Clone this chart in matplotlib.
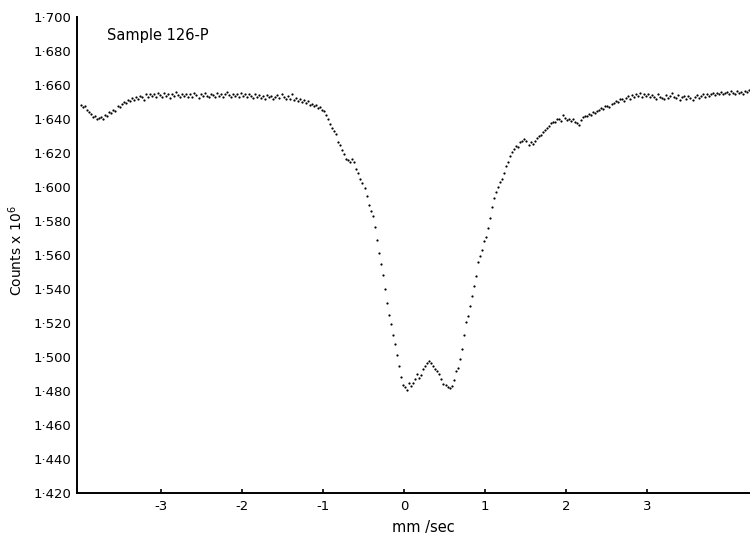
import numpy as np
import matplotlib
matplotlib.use("Agg")
import matplotlib.pyplot as plt

# Channel velocities (mm/sec): constant-velocity channels
velocity = np.linspace(-3.99, 4.26, 331)

# Counts (x 10^6), one per channel
counts = [
    1.6485, 1.6470, 1.6478, 1.6455, 1.6440, 1.6432, 1.6410, 1.6420, 1.6398, 1.6405,
    1.6412, 1.6402, 1.6425, 1.6418, 1.6440, 1.6435, 1.6455, 1.6448, 1.6478, 1.6470,
    1.6490, 1.6502, 1.6495, 1.6512, 1.6505, 1.6525, 1.6510, 1.6530, 1.6518, 1.6538,
    1.6528, 1.6512, 1.6545, 1.6530, 1.6550, 1.6535, 1.6548, 1.6528, 1.6555, 1.6542,
    1.6530, 1.6552, 1.6538, 1.6545, 1.6525, 1.6550, 1.6535, 1.6558, 1.6540, 1.6528,
    1.6548, 1.6535, 1.6550, 1.6532, 1.6545, 1.6528, 1.6552, 1.6540, 1.6525, 1.6548,
    1.6535, 1.6555, 1.6538, 1.6530, 1.6550, 1.6542, 1.6528, 1.6553, 1.6536, 1.6548,
    1.6530, 1.6545, 1.6558, 1.6540, 1.6532, 1.6550, 1.6536, 1.6546, 1.6528, 1.6552,
    1.6538, 1.6545, 1.6530, 1.6548, 1.6535, 1.6522, 1.6545, 1.6530, 1.6540, 1.6525,
    1.6538, 1.6520, 1.6542, 1.6528, 1.6535, 1.6518, 1.6532, 1.6540, 1.6522, 1.6548,
    1.6530, 1.6515, 1.6535, 1.6520, 1.6545, 1.6512, 1.6525, 1.6508, 1.6518, 1.6500,
    1.6510, 1.6495, 1.6505, 1.6485, 1.6490, 1.6475, 1.6482, 1.6465, 1.6470, 1.6455,
    1.6445, 1.6425, 1.6400, 1.6372, 1.6350, 1.6330, 1.6310, 1.6262, 1.6245, 1.6218,
    1.6195, 1.6165, 1.6158, 1.6150, 1.6162, 1.6145, 1.6105, 1.6080, 1.6050, 1.6025,
    1.5996, 1.5945, 1.5895, 1.5860, 1.5830, 1.5765, 1.5690, 1.5610, 1.5545, 1.5480,
    1.5400, 1.5320, 1.5250, 1.5195, 1.5130, 1.5075, 1.5010, 1.4950, 1.4880, 1.4838,
    1.4822, 1.4806, 1.4848, 1.4832, 1.4846, 1.4868, 1.4900, 1.4878, 1.4895, 1.4930,
    1.4945, 1.4965, 1.4978, 1.4962, 1.4950, 1.4928, 1.4918, 1.4900, 1.4870, 1.4842,
    1.4838, 1.4822, 1.4815, 1.4832, 1.4862, 1.4915, 1.4935, 1.4990, 1.5050, 1.5130,
    1.5205, 1.5240, 1.5300, 1.5360, 1.5420, 1.5474, 1.5560, 1.5597, 1.5632, 1.5680,
    1.5705, 1.5760, 1.5820, 1.5880, 1.5938, 1.5968, 1.6000, 1.6028, 1.6050, 1.6085,
    1.6122, 1.6145, 1.6180, 1.6208, 1.6225, 1.6240, 1.6238, 1.6262, 1.6270, 1.6285,
    1.6268, 1.6250, 1.6262, 1.6255, 1.6270, 1.6290, 1.6300, 1.6308, 1.6325, 1.6338,
    1.6350, 1.6360, 1.6375, 1.6385, 1.6380, 1.6398, 1.6402, 1.6390, 1.6425, 1.6408,
    1.6395, 1.6402, 1.6390, 1.6398, 1.6385, 1.6378, 1.6366, 1.6395, 1.6413, 1.6420,
    1.6415, 1.6430, 1.6425, 1.6440, 1.6435, 1.6448, 1.6455, 1.6466, 1.6460, 1.6475,
    1.6478, 1.6470, 1.6490, 1.6495, 1.6505, 1.6500, 1.6515, 1.6520, 1.6508, 1.6525,
    1.6535, 1.6520, 1.6540, 1.6532, 1.6548, 1.6538, 1.6555, 1.6530, 1.6545, 1.6536,
    1.6550, 1.6528, 1.6540, 1.6532, 1.6520, 1.6545, 1.6530, 1.6525, 1.6515, 1.6540,
    1.6525, 1.6535, 1.6555, 1.6530, 1.6522, 1.6540, 1.6510, 1.6530, 1.6538, 1.6520,
    1.6535, 1.6525, 1.6512, 1.6530, 1.6540, 1.6525, 1.6538, 1.6545, 1.6530, 1.6548,
    1.6535, 1.6550, 1.6555, 1.6540, 1.6552, 1.6545, 1.6560, 1.6548, 1.6555, 1.6560,
    1.6545, 1.6562, 1.6555, 1.6550, 1.6565, 1.6552, 1.6560, 1.6548, 1.6562, 1.6558,
    1.6568,
]

x_ticks = [-3, -2, -1, 0, 1, 2, 3]
x_tick_labels = ["-3", "-2", "-1", "0", "1", "2", "3"]
y_ticks = [1.420, 1.440, 1.460, 1.480, 1.500, 1.520, 1.540, 1.560,
           1.580, 1.600, 1.620, 1.640, 1.660, 1.680, 1.700]
y_tick_labels = ["1·420", "1·440", "1·460", "1·480", "1·500", "1·520", "1·540",
                 "1·560", "1·580", "1·600", "1·620", "1·640", "1·660", "1·680",
                 "1·700"]
title_text = "Sample 126-P"
x_label = "mm /sec"
y_label = r"Counts x 10$^{6}$"

plt.rcParams["font.family"] = ["DejaVu Sans"]
fig = plt.figure(figsize=(7.5, 5.35), dpi=100)
ax = fig.add_axes([0.1027, 0.0785, 0.8973, 0.8897])

ax.plot(velocity, counts, linestyle="none", marker="o", markersize=1.6,
        markeredgewidth=0, color="black")

ax.set_xlim(-4.04, 4.27)
ax.set_ylim(1.420, 1.700)

ax.set_xticks(x_ticks)
ax.set_xticklabels(x_tick_labels, fontsize=9.5)
ax.set_yticks(y_ticks)
ax.set_yticklabels(y_tick_labels, fontsize=9.5)
ax.tick_params(axis="x", direction="in", length=3, width=1.2, pad=5)
ax.tick_params(axis="y", length=0, pad=4)

for s in ["top", "right"]:
    ax.spines[s].set_visible(False)
for s in ["left", "bottom"]:
    ax.spines[s].set_linewidth(1.4)
    ax.spines[s].set_color("black")

ax.text(0.045, 0.962, title_text, transform=ax.transAxes, fontsize=10.5,
        ha="left", va="center")
ax.set_xlabel(x_label, fontsize=10.5)
ax.xaxis.set_label_coords(0.514, -0.056)
ax.set_ylabel(y_label, fontsize=10)
ax.yaxis.set_label_coords(-0.077, 0.51)

fig.savefig("out.png", dpi=100)
